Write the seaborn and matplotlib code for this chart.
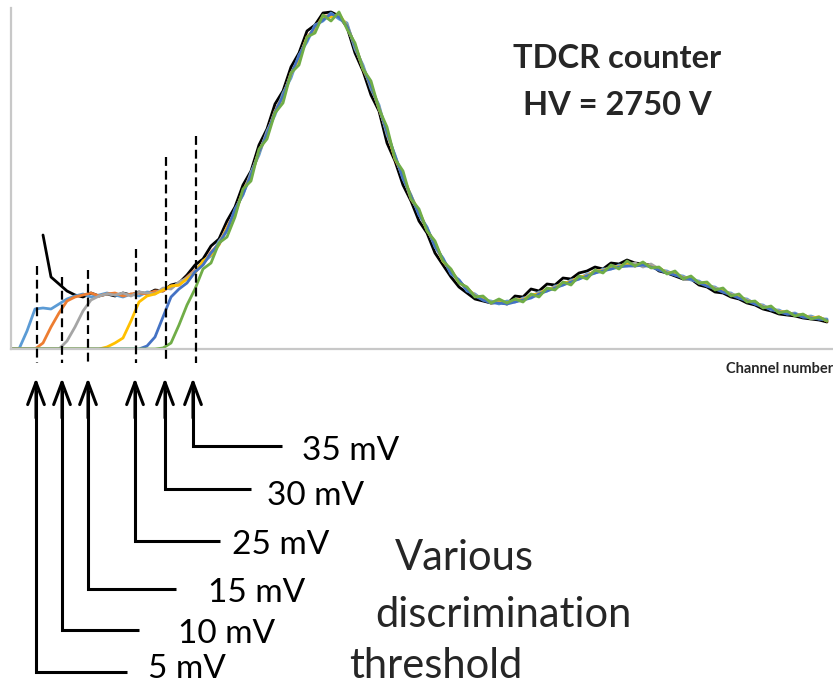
import numpy as np
import pandas as pd
import matplotlib
matplotlib.use("Agg")
import matplotlib.pyplot as plt
import seaborn as sns

nan = np.nan

# ---------------- data ----------------
channel = list(range(0, 824, 8))  # channel number grid (103 points)

series_names = ["no threshold", "5 mV", "10 mV", "15 mV", "25 mV", "30 mV", "35 mV"]
series_colors = ["#000000", "#5B9BD5", "#ED7D31", "#A5A5A5", "#FFC000", "#4472C4", "#70AD47"]

counts_black = [nan, nan, nan, nan, 114, 72, 65, 58,
                54, 52, 56, 53, 55, 53, 56, 54, 57, 55,
                59, 58, 64, 66, 74, 84, 90, 103, 110, 128,
                142, 164, 178, 204, 220, 245, 258, 282, 296, 318,
                324, 336, 337, 333, 322, 296, 278, 254, 238, 206,
                188, 164, 148, 128, 116, 96, 84, 72, 62, 56,
                50, 48, 46, 47, 45, 53, 52, 60, 58, 65,
                64, 71, 70, 76, 78, 82, 80, 86, 85, 89,
                86, 85, 84, 78, 76, 73, 70, 70, 64, 62,
                57, 56, 52, 50, 46, 44, 40, 38, 35, 34,
                33, 31, 30, 29, 27]

counts_5mv = [0, 0, 18, 40, 41, 40, 45, 50,
              53, 55, 52, 54, 56, 54, 52, 55, 53, 57,
              56, 60, 61, 66, 70, 77, 87, 93, 108, 118,
              140, 154, 177, 194, 218, 234, 256, 271, 294, 307,
              324, 328, 336, 330, 326, 300, 284, 260, 244, 214,
              194, 170, 154, 134, 122, 102, 91, 75, 69, 58,
              55, 49, 48, 45, 48, 47, 51, 52, 57, 58,
              63, 64, 69, 70, 75, 76, 80, 80, 84, 83,
              85, 83, 84, 79, 78, 74, 73, 69, 68, 63,
              62, 57, 56, 51, 50, 45, 44, 39, 39, 35,
              36, 32, 33, 30, 30]

counts_10mv = [0, 0, 0, 0, 6, 22, 36, 48,
               52, 54, 56, 53, 55, 56, 53, 55, 56, 55,
               58, 58, 63, 64, 72, 79, 85, 97, 105, 122,
               137, 158, 174, 198, 215, 238, 252, 276, 290, 312,
               320, 333, 333, 334, 322, 304, 281, 264, 240, 218,
               190, 174, 150, 138, 119, 106, 88, 79, 67, 61,
               53, 51, 46, 48, 46, 49, 49, 54, 55, 60,
               61, 66, 67, 72, 73, 78, 78, 82, 82, 86,
               83, 86, 82, 81, 76, 76, 71, 71, 66, 65,
               60, 59, 54, 53, 48, 47, 42, 41, 37, 37,
               34, 34, 31, 32, 28]

counts_15mv = [0, 0, 0, 0, 0, 0, 0, 8,
               22, 38, 49, 53, 55, 54, 56, 53, 57, 56,
               55, 61, 60, 67, 71, 78, 88, 94, 106, 121,
               137, 157, 175, 197, 216, 237, 253, 274, 292, 311,
               321, 331, 333, 333, 324, 303, 282, 263, 242, 216,
               192, 172, 151, 137, 120, 104, 88, 78, 67, 60,
               54, 50, 47, 47, 46, 48, 50, 53, 56, 59,
               62, 65, 68, 71, 74, 77, 79, 81, 83, 84,
               86, 82, 85, 80, 77, 75, 72, 70, 67, 64,
               61, 58, 55, 52, 49, 46, 43, 40, 38, 36,
               35, 33, 32, 31, 29]

counts_25mv = [0, 0, 0, 0, 0, 0, 0, 0,
               0, 0, 0, 0, 2, 6, 11, 28, 47, 53,
               55, 59, 63, 64, 70, 76, 88, 94, 104, 121,
               136, 157, 173, 197, 214, 237, 253, 275, 291, 311,
               321, 331, 332, 335, 323, 303, 280, 263, 241, 217,
               191, 173, 153, 137, 119, 105, 88, 78, 67, 61,
               53, 51, 46, 47, 46, 49, 49, 54, 55, 60,
               61, 66, 67, 72, 73, 78, 78, 82, 82, 86,
               83, 86, 82, 81, 76, 76, 71, 71, 66, 65,
               60, 59, 54, 53, 48, 47, 42, 41, 37, 37,
               34, 34, 31, 32, 28]

counts_30mv = [0, 0, 0, 0, 0, 0, 0, 0,
               0, 0, 0, 0, 0, 0, 0, 0, 0, 3,
               12, 32, 52, 60, 66, 77, 84, 96, 105, 119,
               139, 155, 174, 197, 215, 237, 253, 275, 293, 309,
               323, 329, 335, 332, 323, 303, 281, 263, 241, 217,
               193, 171, 153, 135, 121, 103, 90, 76, 69, 59,
               53, 49, 46, 46, 45, 47, 49, 51, 55, 58,
               61, 64, 67, 70, 73, 76, 78, 80, 82, 83,
               83, 84, 82, 79, 76, 74, 71, 70, 66, 63,
               60, 57, 54, 51, 48, 45, 42, 40, 37, 35,
               35, 32, 31, 30, 29]

counts_35mv = [0, 0, 0, 0, 0, 0, 0, 0,
               0, 0, 0, 0, 0, 0, 0, 0, 0, 0,
               0, 1, 6, 24, 44, 60, 80, 86, 106, 112,
               132, 160, 168, 200, 210, 236, 246, 276, 284, 312,
               316, 334, 328, 337, 320, 306, 280, 268, 240, 222,
               190, 178, 150, 140, 118, 108, 88, 80, 66, 62,
               52, 53, 46, 50, 46, 50, 47, 55, 52, 61,
               59, 67, 64, 73, 70, 79, 76, 84, 80, 88,
               83, 87, 81, 82, 75, 78, 70, 73, 66, 67,
               59, 61, 53, 55, 47, 48, 41, 43, 36, 38,
               33, 35, 30, 32, 28]

threshold_channels = [26, 51, 77, 125, 155, 185]
threshold_labels = ["5 mV", "10 mV", "15 mV", "25 mV", "30 mV", "35 mV"]

all_counts = [counts_black, counts_5mv, counts_10mv, counts_15mv,
              counts_25mv, counts_30mv, counts_35mv]

frames = []
for name, vals in zip(series_names, all_counts):
    frames.append(pd.DataFrame({"channel": channel, "counts": vals, "series": name}))
df = pd.concat(frames, ignore_index=True)

# ---------------- figure ----------------
sns.set_style("white")
plt.rcParams["font.family"] = ["Lato", "DejaVu Sans"]

W, H = 833, 686
fig = plt.figure(figsize=(W / 100, H / 100), dpi=100)
ax = fig.add_axes([11 / W, (H - 349) / H, 822 / W, 341 / H])

sns.lineplot(data=df, x="channel", y="counts", hue="series",
             hue_order=series_names, palette=dict(zip(series_names, series_colors)),
             estimator=None, legend=False, lw=2.0, ax=ax)

ax.set_xlim(0, 822)
ax.set_ylim(0, 341)
ax.set_xticks([])
ax.set_yticks([])
ax.set_xlabel("")
ax.set_ylabel("")
for s in ["top", "right"]:
    ax.spines[s].set_visible(False)
for s in ["left", "bottom"]:
    ax.spines[s].set_color("#C8C8C8")
    ax.spines[s].set_linewidth(1.6)

# dashed threshold markers
dash_tops = [83, 72, 79, 100, 192, 213]
for ch, top in zip(threshold_channels, dash_tops):
    ax.plot([ch, ch], [top, -14], ls=(0, (4, 2.2)), color="black", lw=1.6,
            clip_on=False, zorder=5)

# arrows + labels (axes units equal pixels)
arrow_x = [25, 51, 77, 124, 154, 182]
elbow_y = [-323, -281, -240, -192, -140, -97]
line_end = [116, 128, 165, 209, 240, 271]
label_x = [137, 167, 197, 221, 256, 291]
label_y = [-329, -294, -253, -205, -156, -111]
tip_y = -29
for x, ey, xe, lx, ly, lab in zip(arrow_x, elbow_y, line_end, label_x, label_y, threshold_labels):
    ax.plot([xe, x, x], [ey, ey, tip_y - 12], color="black", lw=2.2,
            clip_on=False, solid_joinstyle="miter", solid_capstyle="butt")
    ax.annotate("", xy=(x, tip_y), xytext=(x, tip_y - 40),
                arrowprops=dict(arrowstyle="->,head_length=0.8,head_width=0.3",
                                lw=2.2, color="black", shrinkA=0, shrinkB=0,
                                mutation_scale=20),
                annotation_clip=False)
    ax.text(lx, ly, lab, fontsize=24, ha="left", va="baseline", color="black")

ax.text(453, -221, "Various", fontsize=30, ha="center", va="baseline")
ax.text(492, -278, "discrimination", fontsize=30, ha="center", va="baseline")
ax.text(425, -329, "threshold", fontsize=30, ha="center", va="baseline")

ax.text(606, 281, "TDCR counter", fontsize=23.5, fontweight="bold", ha="center", va="baseline")
ax.text(606, 234, "HV = 2750 V", fontsize=23.5, fontweight="bold", ha="center", va="baseline")

ax.text(822, -24, "Channel number", fontsize=10.5, fontweight="bold", ha="right", va="baseline")

fig.savefig("out.png", dpi=100)
